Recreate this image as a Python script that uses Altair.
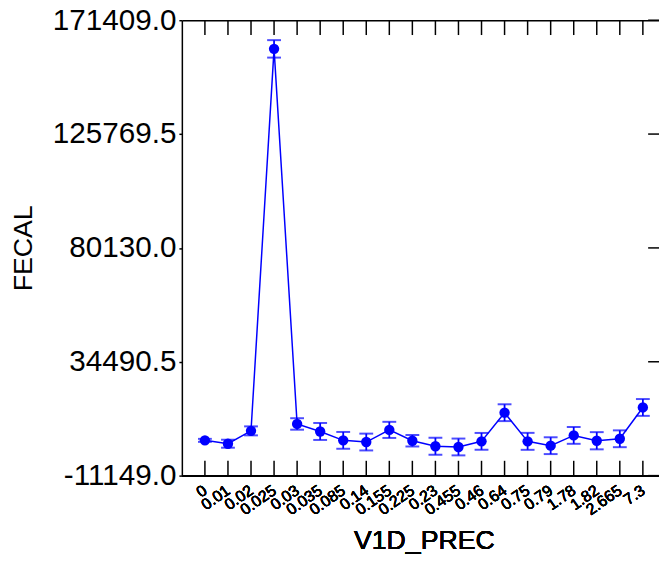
import altair as alt
import pandas as pd

cats = ["0", "0.01", "0.02", "0.025", "0.03", "0.035", "0.085", "0.14", "0.155", "0.225",
        "0.23", "0.455", "0.46", "0.64", "0.75", "0.79", "1.78", "1.82", "2.665", "7.3"]
vals = [2988, 1642, 6790, 159923, 9562, 6552, 2988, 2315, 7186, 2830,
        612, 335, 2592, 14076, 2592, 851, 4968, 2830, 3622, 16175]
errs = [600, 1600, 1800, 3500, 2300, 3400, 3370, 3370, 3230, 2300,
        3400, 3370, 3370, 3370, 3400, 3370, 3370, 3450, 3370, 3370]
yticks = [-11149, 34490.5, 80130, 125769.5, 171409]

df = pd.DataFrame({"cat": cats, "val": vals,
                   "lo": [v - e for v, e in zip(vals, errs)],
                   "hi": [v + e for v, e in zip(vals, errs)]})
tdf = pd.DataFrame({"t": yticks})

W, H = 483, 461
BLUE = "#0000ff"
FONT = "Liberation Sans"

xscale = alt.Scale(type="point", domain=cats, range=[0, 490], padding=1)
yscale = alt.Scale(domain=[-11149, 171409], nice=False, zero=False)

xaxis = alt.Axis(orient="bottom", title="V1D_PREC", labelAngle=-35, labelAlign="right",
                 labelBaseline="middle", labelFontSize=16, labelPadding=13, ticks=False,
                 domain=True, domainColor="black", domainWidth=1.5, labelColor="black",
                 titleFontSize=27, titleFontWeight="normal", titleColor="black",
                 titleY=74, titleBaseline="alphabetic", labelFont=FONT, titleFont=FONT,
                 labelOverlap=False, grid=False)
yaxis = alt.Axis(title="FECAL", values=yticks,
                 labelExpr="datum.value < 0 ? '-' + format(-datum.value, '.1f') : format(datum.value, '.1f')",
                 labelFontSize=30,
                 labelColor="black", labelPadding=3, tickSize=3, tickColor="black",
                 tickWidth=1.5, domain=True, domainColor="black", domainWidth=1.5,
                 titleFontSize=27, titleFontWeight="normal", titleColor="black",
                 titleX=-160, titleY=H / 2, titleBaseline="middle", titleAngle=-90,
                 labelFont=FONT, titleFont=FONT, grid=False, labelOverlap=False)


def X():
    return alt.X("cat:N", sort=cats, scale=xscale, axis=xaxis)


def Y(field):
    return alt.Y(field, scale=yscale, axis=yaxis)


Xtop = alt.X("cat:N", sort=cats, scale=xscale,
             axis=alt.Axis(orient="top", labels=False, ticks=False, title=None,
                           domain=True, domainColor="black", domainWidth=1.5, grid=False))

base = alt.Chart(df)

line = base.mark_line(color=BLUE, strokeWidth=1.5).encode(x=X(), y=Y("val:Q"))
bars = base.mark_rule(color=BLUE, strokeWidth=1.8).encode(x=X(), y=Y("lo:Q"), y2="hi:Q")
caplo = base.mark_tick(color=BLUE, size=14, thickness=2).encode(x=X(), y=Y("lo:Q"))
caphi = base.mark_tick(color=BLUE, size=14, thickness=2).encode(x=X(), y=Y("hi:Q"))
pts = base.mark_point(filled=True, color=BLUE, size=110, opacity=1).encode(x=X(), y=Y("val:Q"))

topticks = base.mark_rule(color="black", strokeWidth=1.5).encode(
    x=Xtop, y=alt.value(0), y2=alt.value(15))
botticks = base.mark_rule(color="black", strokeWidth=1.5).encode(
    x=X(), y=alt.value(H - 15), y2=alt.value(H))
rticks = alt.Chart(tdf).mark_rule(color="black", strokeWidth=1.5).encode(
    y=Y("t:Q"), x=alt.value(W - 11), x2=alt.value(W))

chart = alt.layer(line, bars, caplo, caphi, pts, topticks, botticks, rticks).properties(
    width=W, height=H,
    autosize=alt.AutoSizeParams(type="none"),
    padding={"left": 176, "top": 9, "right": 0, "bottom": 78},
).configure_view(stroke=None).configure(background="white")

chart.save("out.html", embed_options={"renderer": "svg", "actions": False})
